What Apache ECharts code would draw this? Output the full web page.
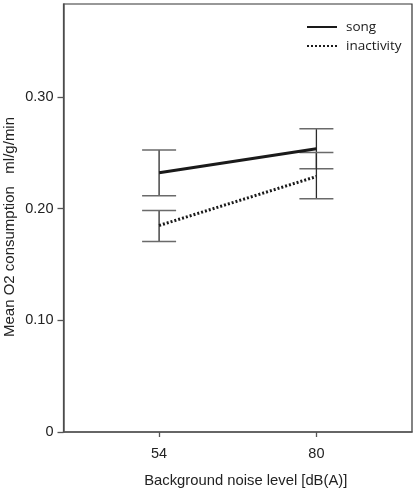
<!DOCTYPE html>
<html>
<head>
<meta charset="utf-8">
<script src="https://cdn.jsdelivr.net/npm/echarts@6/dist/echarts.min.js"></script>
<style>html,body{margin:0;padding:0;background:#fff}#c{width:417px;height:490px}</style>
</head>
<body>
<div id="c"></div>
<script>
var noiseLevels = [54, 80];
var songMean = [0.232, 0.2534];
var songLow = [0.2114, 0.2355];
var songHigh = [0.2523, 0.2713];
var inactMean = [0.1848, 0.2286];
var inactLow = [0.1705, 0.2087];
var inactHigh = [0.1982, 0.2501];
var yTicks = [0, 0.1, 0.2, 0.3];

var chart = echarts.init(document.getElementById('c'));
function pairs(xs, ys){ return xs.map(function(x,i){ return [x, ys[i]]; }); }
var errData = [];
noiseLevels.forEach(function(x,i){ errData.push([x, songLow[i], songHigh[i]]); errData.push([x, inactLow[i], inactHigh[i]]); });

function renderErr(params, api){
  var x = api.value(0);
  var lo = api.coord([x, api.value(1)]);
  var hi = api.coord([x, api.value(2)]);
  var hw = 17;
  return {type:'group', children:[
    {type:'line', shape:{x1:lo[0],y1:lo[1],x2:hi[0],y2:hi[1]}, style:{stroke:'#2a2a2a',lineWidth:1.3}},
    {type:'line', shape:{x1:lo[0]-hw,y1:lo[1],x2:lo[0]+hw,y2:lo[1]}, style:{stroke:'#6a6a6a',lineWidth:1.5}},
    {type:'line', shape:{x1:hi[0]-hw,y1:hi[1],x2:hi[0]+hw,y2:hi[1]}, style:{stroke:'#6a6a6a',lineWidth:1.5}}
  ]};
}

var font = 'Liberation Sans, Arial, sans-serif';
chart.setOption({
  animation:false,
  backgroundColor:'#fff',
  grid:{left:63.5, right:5, top:4, bottom:58, show:true, borderColor:'#333', borderWidth:1.2, containLabel:false, outerBoundsMode:'none'},
  legend:{
    orient:'vertical', left:301, top:15, itemWidth:30, itemHeight:10, itemGap:5,
    data:['song','inactivity'],
    itemStyle:{opacity:0},
    textStyle:{fontFamily:'Open Sans, sans-serif', fontSize:13.5, color:'#1a1a1a', padding:[0,0,0,4]}
  },
  xAxis:{
    type:'value', min:38.2, max:95.8,
    splitLine:{show:false},
    axisLine:{show:true, lineStyle:{color:'#555', width:1.5}},
    axisTick:{show:true, length:5, customValues:noiseLevels, lineStyle:{color:'#555', width:1.3}},
    axisLabel:{customValues:noiseLevels, margin:14, fontSize:14.5, fontFamily:font, color:'#222'},
    name:'Background noise level [dB(A)]', nameLocation:'middle', nameGap:41, nameMoveOverlap:false,
    nameTextStyle:{fontSize:14.8, fontFamily:font, color:'#222', padding:[0,0,0,16]}
  },
  yAxis:{
    type:'value', min:0, max:0.383,
    splitLine:{show:false},
    axisLine:{show:true, lineStyle:{color:'#555', width:1.5}},
    axisTick:{show:true, length:6, customValues:yTicks, lineStyle:{color:'#555', width:1.3}},
    axisLabel:{customValues:yTicks, margin:10, fontSize:14.5, fontFamily:font, color:'#222',
      formatter:function(v){ return v===0 ? '0' : v.toFixed(2); }},
    name:'Mean O2 consumption   ml/g/min', nameLocation:'middle', nameGap:46, nameMoveOverlap:false,
    nameTextStyle:{fontSize:15, fontFamily:font, color:'#222', padding:[0,0,0,-18]}
  },
  series:[
    {name:'song', type:'line', data:pairs(noiseLevels, songMean), symbol:'none', z:3,
      lineStyle:{color:'#1a1a1a', width:3, type:'solid'}, itemStyle:{color:'#1a1a1a'}},
    {name:'inactivity', type:'line', data:pairs(noiseLevels, inactMean), symbol:'none', z:3,
      lineStyle:{color:'#1a1a1a', width:3, type:[2,2]}, itemStyle:{color:'#1a1a1a'}},
    {name:'err', type:'custom', renderItem:renderErr, data:errData, z:2, encode:{x:0, y:[1,2]}}
  ]
});
</script>
</body>
</html>
